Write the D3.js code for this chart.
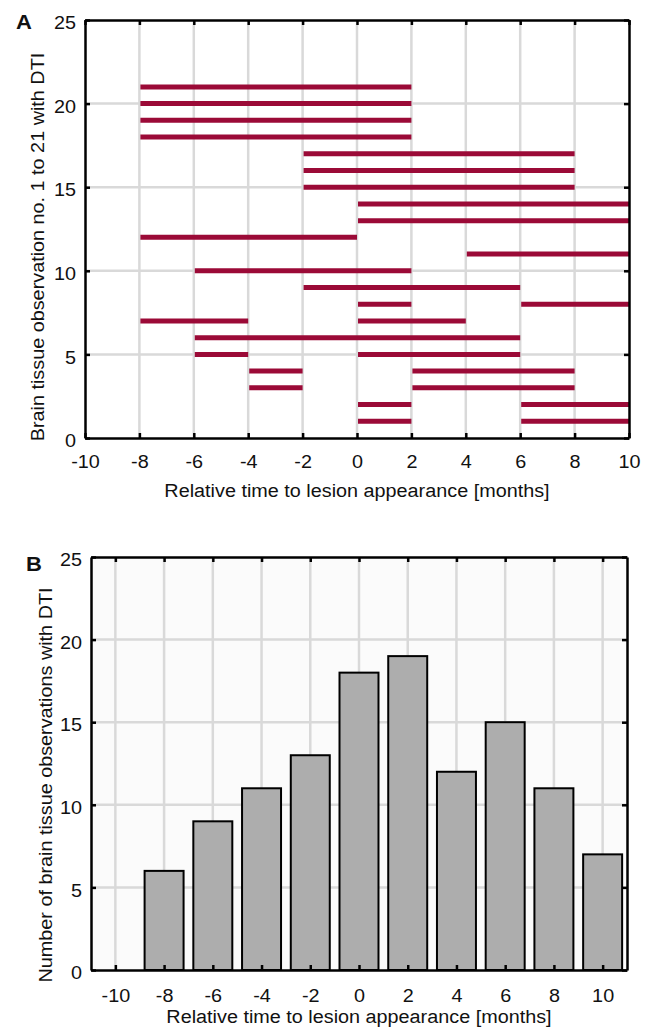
<!DOCTYPE html>
<html><head><meta charset="utf-8">
<script src="https://cdn.jsdelivr.net/npm/d3@7"></script>
<style>
html,body{margin:0;padding:0;background:#fff;}
text{font-family:"Liberation Sans",Arial,sans-serif;fill:#111;}
</style></head>
<body>
<script>
// Panel A: observation intervals [observation no., start month, end month]
const segObs   = [21,20,19,18,17,16,15,14,13,12,11,10,9, 8, 8, 7, 7, 6, 5, 5, 4, 4, 3, 3, 2, 2, 1, 1];
const segStart = [-8,-8,-8,-8,-2,-2,-2, 0, 0,-8, 4,-6,-2, 0, 6,-8, 0,-6,-6, 0,-4, 2,-4, 2, 0, 6, 0, 6];
const segEnd   = [ 2, 2, 2, 2, 8, 8, 8,10,10, 0,10, 2, 6, 2,10,-4, 4, 6,-4, 6,-2, 8,-2, 8, 2,10, 2,10];
// Panel B: histogram
const binCenters = [-10,-8,-6,-4,-2,0,2,4,6,8,10];
const binCounts  = [0,6,9,11,13,18,19,12,15,11,7];
const xTicks = [-10,-8,-6,-4,-2,0,2,4,6,8,10];
const yTicks = [0,5,10,15,20,25];
const labelA_x = "Relative time to lesion appearance [months]";
const labelA_y = "Brain tissue observation no. 1 to 21 with DTI";
const labelB_x = "Relative time to lesion appearance [months]";
const labelB_y = "Number of brain tissue observations with DTI";

const W=646,H=1028;
const svg=d3.select("body").append("svg").attr("width",W).attr("height",H);
const gridCol="#d9d9d9", fs=18;
const fmt=d=>String(d);

function frame(g,x,y,x0,x1,y0,y1,padX){
  const bottom=g.append("g").attr("transform",`translate(0,${y0})`)
    .call(d3.axisBottom(x).tickValues(xTicks).tickSize(-5).tickSizeOuter(0).tickPadding(padX).tickFormat(fmt));
  const top=g.append("g").attr("transform",`translate(0,${y1})`)
    .call(d3.axisTop(x).tickValues(xTicks).tickSize(-5).tickSizeOuter(0).tickFormat(""));
  const left=g.append("g").attr("transform",`translate(${x0},0)`)
    .call(d3.axisLeft(y).tickValues(yTicks).tickSize(-5).tickSizeOuter(0).tickPadding(9).tickFormat(fmt));
  const right=g.append("g").attr("transform",`translate(${x1},0)`)
    .call(d3.axisRight(y).tickValues(yTicks).tickSize(-5).tickSizeOuter(0).tickFormat(""));
  [bottom,top,left,right].forEach(a=>{
    a.select(".domain").attr("stroke","#000").attr("stroke-width",2.5);
    a.selectAll(".tick line").attr("stroke","#000").attr("stroke-width",2.5);
    a.selectAll("text").style("font-size",fs+"px").attr("fill","#111");
  });
  left.selectAll("text").attr("y",3);
}

// ---------- Panel A ----------
{
  const x=d3.scaleLinear([-10,10],[85,629]);
  const y=d3.scaleLinear([0,25],[438,20]);
  const g=svg.append("g");
  g.selectAll(".gx").data(xTicks.filter(d=>d>-10&&d<10)).join("line")
    .attr("x1",d=>x(d)).attr("x2",d=>x(d)).attr("y1",y(0)).attr("y2",y(25))
    .attr("stroke",gridCol).attr("stroke-width",2.5);
  g.selectAll(".gy").data(yTicks.filter(d=>d>0&&d<25)).join("line")
    .attr("x1",x(-10)).attr("x2",x(10)).attr("y1",d=>y(d)).attr("y2",d=>y(d))
    .attr("stroke",gridCol).attr("stroke-width",2.5);
  g.selectAll(".seg").data(segObs.map((o,i)=>({o,s:segStart[i],e:segEnd[i]}))).join("line")
    .attr("x1",d=>x(d.s)+1).attr("x2",d=>x(d.e)).attr("y1",d=>y(d.o)).attr("y2",d=>y(d.o))
    .attr("stroke","#9b0a37").attr("stroke-width",5);
  frame(g,x,y,85,629,438,20,17);
  g.append("text").attr("x",x(0)).attr("y",497).attr("text-anchor","middle").style("font-size",fs+"px").text(labelA_x);
  g.append("text").attr("transform",`translate(44,247) rotate(-90)`).attr("text-anchor","middle").style("font-size",fs+"px").text(labelA_y);
  g.append("text").attr("x",16).attr("y",29).style("font-size","20px").style("font-weight","bold").text("A");
}

// ---------- Panel B ----------
{
  const x=d3.scaleLinear([-11,11],[91,627]);
  const y=d3.scaleLinear([0,25],[970,557]);
  const g=svg.append("g");
  g.append("rect").attr("x",x(-11)).attr("y",y(25)).attr("width",x(11)-x(-11)).attr("height",y(0)-y(25)).attr("fill","#fbfbfb");
  g.selectAll(".gx").data(xTicks).join("line")
    .attr("x1",d=>x(d)).attr("x2",d=>x(d)).attr("y1",y(0)).attr("y2",y(25))
    .attr("stroke",gridCol).attr("stroke-width",2.5);
  g.selectAll(".gy").data(yTicks.filter(d=>d>0&&d<25)).join("line")
    .attr("x1",x(-11)).attr("x2",x(11)).attr("y1",d=>y(d)).attr("y2",d=>y(d))
    .attr("stroke",gridCol).attr("stroke-width",2.5);
  g.selectAll(".bar").data(binCenters.map((c,i)=>({c,v:binCounts[i]})).filter(d=>d.v>0)).join("rect")
    .attr("x",d=>x(d.c-0.8)).attr("width",d=>x(d.c+0.8)-x(d.c-0.8))
    .attr("y",d=>y(d.v)).attr("height",d=>y(0)-y(d.v))
    .attr("fill","#adadad").attr("stroke","#000").attr("stroke-width",2);
  frame(g,x,y,91,627,970,557,19);
  g.append("text").attr("x",x(0)).attr("y",1023).attr("text-anchor","middle").style("font-size",fs+"px").text(labelB_x);
  g.append("text").attr("transform",`translate(52,785) rotate(-90)`).attr("text-anchor","middle").style("font-size",fs+"px").text(labelB_y);
  g.append("text").attr("x",26).attr("y",571).style("font-size","20px").style("font-weight","bold").text("B");
}

// slight horizontal widening of glyphs to match reference typography
svg.selectAll("text").each(function(){
  const l=this.getComputedTextLength();
  if(l>0){ this.setAttribute("textLength",l*1.1); this.setAttribute("lengthAdjust","spacingAndGlyphs"); }
});
</script>
</body></html>
